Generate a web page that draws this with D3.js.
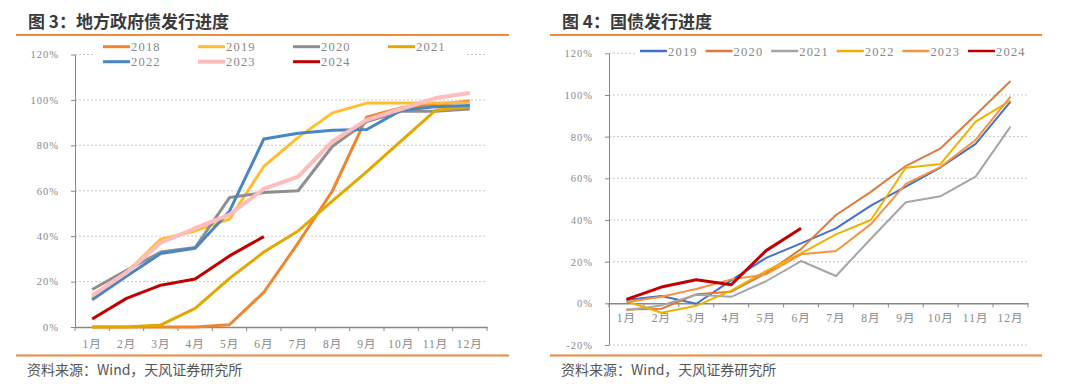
<!DOCTYPE html>
<html><head><meta charset="utf-8">
<script src="https://cdn.jsdelivr.net/npm/d3@7/dist/d3.min.js"></script>
<style>
body{margin:0;background:#fff;}
svg{display:block;}
.tick text{font-family:"Liberation Serif","Noto Sans CJK SC",serif;fill:#888;letter-spacing:1px;}
</style></head>
<body><svg id="c" width="1080" height="391"></svg>
<script>
const months = ["1月","2月","3月","4月","5月","6月","7月","8月","9月","10月","11月","12月"];
const yTicksLeft = [0,20,40,60,80,100,120];
const yTicksRight = [-20,0,20,40,60,80,100,120];

// 图3 地方政府债发行进度 (%)
const localYears = ["2018","2019","2020","2021","2022","2023","2024"];
const local2018 = [0,0,0,0,1,15.3,37,60,92.5,96.5,98,99.5];
const local2019 = [13,24,38.7,42.3,47.5,70.7,83.5,94.3,98.6,98.6,98.6,98.8];
const local2020 = [16.5,25,33,35,57,59.2,60,79.6,90.5,95,95,96];
const local2021 = [0,0,0.9,8.2,21.4,33,42.3,55.5,68.4,82,95.4,97];
const local2022 = [12,22.3,32.4,34.7,51,82.8,85.3,86.6,87,95.5,97,97.5];
const local2023 = [13.8,24,37.1,43.5,49.5,60.8,66.2,81.8,91.2,96,100.8,103];
const local2024 = [3.5,12.6,18.4,21.1,31.3,39.8];

// 图4 国债发行进度 (%)
const govYears = ["2019","2020","2021","2022","2023","2024"];
const gov2019 = [1.6,3.5,-0.2,11,21.8,28.8,36,46.9,56,65.3,76.5,96.8];
const gov2020 = [-3,-2.6,4.3,5.6,14.5,26,42.4,53.5,65.9,74.4,90.4,106.7];
const gov2021 = [-3.3,-1,4.1,3.1,10.6,20.3,13.1,31,48.5,51.4,60.8,84.8];
const gov2022 = [1,-4.5,-1.2,6.1,15.6,24,33.1,40,65.1,66.9,87.2,97.3];
const gov2023 = [0.5,3.2,6.9,11.5,13.9,23.5,25.1,38,57.3,65.5,78.4,99.2];
const gov2024 = [1.9,7.8,11.3,8.9,25.3,36];

const svg = d3.select("#c");
const ORANGE = "#F0883A";

function panel(o){
  // header
  svg.append("text").attr("x",o.titleX).attr("y",28)
    .attr("font-family","'Noto Sans CJK SC',sans-serif").attr("font-weight","bold")
    .attr("font-size",17).attr("fill","#3a3a3a").text(o.title);
  svg.append("line").attr("x1",o.frameX0).attr("x2",o.frameX1).attr("y1",35).attr("y2",35)
    .attr("stroke",ORANGE).attr("stroke-width",2);
  svg.append("line").attr("x1",o.frameX0).attr("x2",o.frameX1).attr("y1",355.5).attr("y2",355.5)
    .attr("stroke",ORANGE).attr("stroke-width",2);
  svg.append("text").attr("x",o.titleX-1).attr("y",375)
    .attr("font-family","'Noto Sans CJK SC',sans-serif")
    .attr("font-size",14).attr("fill","#555").text("资料来源：Wind，天风证券研究所");

  const x = d3.scaleBand().domain(months).range([o.x0,o.x1]).padding(0);
  const y = d3.scaleLinear().domain(o.yDomain).range([o.yBottom,o.yTop]);

  // grid
  const g = svg.append("g");
  g.selectAll("line.grid").data(o.yTicks.filter(v=>v!==0)).join("line")
    .attr("x1",o.x0).attr("x2",o.x1).attr("y1",d=>y(d)).attr("y2",d=>y(d))
    .attr("stroke","#c8c8c8").attr("stroke-width",1).attr("stroke-dasharray","2,2");

  // y axis
  const ya = svg.append("g").attr("transform",`translate(${o.x0},0)`)
    .call(d3.axisLeft(y).tickValues(o.yTicks).tickSize(4).tickSizeOuter(0).tickPadding(12)
      .tickFormat(d=>d+"%"));
  ya.select(".domain").attr("stroke","#888");
  ya.selectAll(".tick line").attr("stroke","#888");
  ya.selectAll(".tick text").attr("font-size",10.5);

  // x axis at 0
  const xa = svg.append("g").attr("transform",`translate(0,${y(0)})`)
    .call(d3.axisBottom(x).tickSize(0).tickPadding(o.xPad));
  xa.select(".domain").attr("stroke","#888").attr("stroke-width",1.5);
  xa.selectAll(".tick text").attr("font-size",11.5);
  // boundary ticks
  const bounds = months.map(m=>x(m)).concat([o.x1]);
  svg.append("g").selectAll("line").data(bounds).join("line")
    .attr("x1",d=>d).attr("x2",d=>d).attr("y1",y(0)).attr("y2",y(0)+4)
    .attr("stroke","#888").attr("stroke-width",1);

  // legend background
  svg.append("rect").attr("x",o.legBg[0]).attr("y",o.legBg[1]).attr("width",o.legBg[2]).attr("height",o.legBg[3]).attr("fill","#fff");

  const line = d3.line().x((d,i)=>x(months[i])+x.bandwidth()/2).y(d=>y(d));
  o.series.forEach(s=>{
    svg.append("path").datum(s.values).attr("d",line).attr("fill","none")
      .attr("stroke",s.color).attr("stroke-width",s.w).attr("stroke-linejoin","round");
  });

  // legend
  o.series.forEach((s,i)=>{
    const p = o.legPos(i);
    svg.append("line").attr("x1",p[0]).attr("x2",p[0]+27).attr("y1",p[1]).attr("y2",p[1])
      .attr("stroke",s.color).attr("stroke-width",s.lw);
    svg.append("text").attr("x",p[0]+28).attr("y",p[1]+4.5)
      .attr("font-family","'Liberation Serif',serif").attr("font-size",12.5)
      .attr("letter-spacing","1.2px").attr("fill","#888").text(s.name);
  });
}

const localVals = [local2018,local2019,local2020,local2021,local2022,local2023,local2024];
const localColors = ["#F0852D","#FFBE2E","#8f8f8f","#E3A800","#4A86C1","#FFBCBC","#C00000"];
const localW = [3,3,3,3,3,4,3];
panel({
  title:"图 3：地方政府债发行进度", titleX:28, frameX0:16, frameX1:509,
  x0:75, x1:487, yBottom:327, yTop:54.5, yDomain:[0,120], yTicks:yTicksLeft, xPad:13,
  legBg:[95,39,370,30],
  series: localYears.map((n,i)=>({name:n, values:localVals[i], color:localColors[i], w:localW[i], lw:localW[i]})),
  legPos:i=>[103+95*(i%4), 46.7+15*Math.floor(i/4)]
});

const govVals = [gov2019,gov2020,gov2021,gov2022,gov2023,gov2024];
const govColors = ["#4472C4","#DD7B3C","#A5A5A5","#ECB200","#F79240","#C00000"];
const govW = [2,2,2,2,2,3];
panel({
  title:"图 4：国债发行进度", titleX:562, frameX0:550, frameX1:1042,
  x0:609, x1:1028, yBottom:345, yTop:53.3, yDomain:[-20,120], yTicks:yTicksRight, xPad:11,
  legBg:[637,43,392,16],
  series: govYears.map((n,i)=>({name:n, values:govVals[i], color:govColors[i], w:govW[i], lw:2.5})),
  legPos:i=>[640+65.6*i, 51]
});
</script></body></html>
